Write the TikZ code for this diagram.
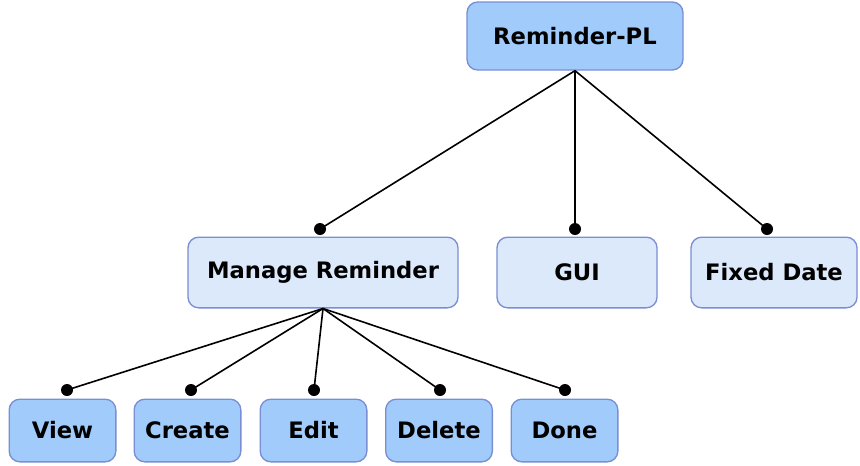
\documentclass[tikz,border=0pt]{standalone}
\usepackage{fontspec}
\setmainfont{DejaVu Sans}
\definecolor{darkfill}{RGB}{160,203,250}
\definecolor{lightfill}{RGB}{220,233,251}
\definecolor{boxborder}{RGB}{122,142,212}
\tikzset{
  box/.style={draw=boxborder, line width=1pt, rounded corners=8pt, inner sep=0pt, font=\bfseries\fontsize{17}{19}\selectfont},
  darkbox/.style={box, fill=darkfill},
  lightbox/.style={box, fill=lightfill},
  dotnode/.style={circle, fill=black, inner sep=0pt, minimum size=9pt},
  link/.style={line width=1.2pt, black}
}
\begin{document}
\begin{tikzpicture}[x=0.75pt, y=-0.75pt]
\useasboundingbox (0,0) rectangle (860,465);
% top
\node[darkbox, minimum width=162pt, minimum height=51pt] (root) at (575,36) {Reminder-PL};
% middle
\node[lightbox, minimum width=202.5pt, minimum height=53pt] (mr) at (323,272.5) {Manage Reminder};
\node[lightbox, minimum width=120pt, minimum height=53pt] (gui) at (577,272.5) {GUI};
\node[lightbox, minimum width=124.5pt, minimum height=53pt] (fd) at (774,272.5) {Fixed Date};
% bottom
\node[darkbox, minimum width=80pt, minimum height=47pt] (view) at (62.5,430.5) {View};
\node[darkbox, minimum width=80pt, minimum height=47pt] (create) at (187.5,430.5) {Create};
\node[darkbox, minimum width=80pt, minimum height=47pt] (edit) at (313.5,430.5) {Edit};
\node[darkbox, minimum width=80pt, minimum height=47pt] (delete) at (439,430.5) {Delete};
\node[darkbox, minimum width=80pt, minimum height=47pt] (done) at (564.5,430.5) {Done};
% dots
\node[dotnode] (dmr) at (320,229) {};
\node[dotnode] (dgui) at (575,229) {};
\node[dotnode] (dfd) at (767,229) {};
\node[dotnode] (dview) at (67,390) {};
\node[dotnode] (dcreate) at (191,390) {};
\node[dotnode] (dedit) at (314,390) {};
\node[dotnode] (ddelete) at (440,390) {};
\node[dotnode] (ddone) at (565,390) {};
% links
\draw[link] (root.south) -- (dmr.center);
\draw[link] (root.south) -- (dgui.center);
\draw[link] (root.south) -- (dfd.center);
\draw[link] (mr.south) -- (dview.center);
\draw[link] (mr.south) -- (dcreate.center);
\draw[link] (mr.south) -- (dedit.center);
\draw[link] (mr.south) -- (ddelete.center);
\draw[link] (mr.south) -- (ddone.center);
\end{tikzpicture}
\end{document}
